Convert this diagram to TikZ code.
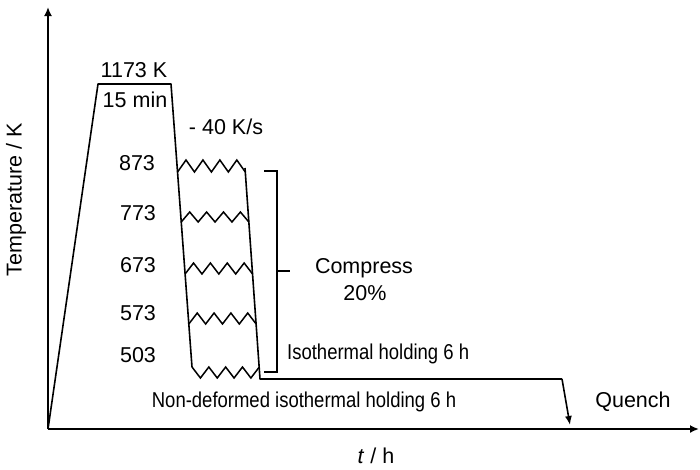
\documentclass[tikz,border=0pt]{standalone}
\usepackage{fontspec}
\setmainfont{Liberation Sans}
\usetikzlibrary{arrows.meta}
\begin{document}
\begin{tikzpicture}[x=1pt,y=-1pt,
  lbl/.style={inner sep=0pt, font=\fontsize{21.5}{23}\selectfont},
  lbls/.style={inner sep=0pt, font=\fontsize{21.5}{23}\selectfont, xscale=0.86},
  axis/.style={line width=2pt},
  proc/.style={line width=1.6pt, line join=round},
  zig/.style={line width=1.5pt, line join=miter}]
\useasboundingbox (0,0) rectangle (700,469);
% axes
\coordinate (O) at (48,429);
\coordinate (Ytop) at (48,7);
\coordinate (Xend) at (699,429);
\draw[axis,-{Latex[length=9pt,width=8pt]}] (O) -- (Ytop);
\draw[axis,-{Latex[length=9pt,width=8pt]}] (O) -- (Xend);
% heating and plateau
\coordinate (A) at (98,84);
\coordinate (B) at (171,84);
\coordinate (C) at (192,367);
\draw[proc] (O) -- (A) -- (B) -- (C);
% zigzags
\foreach \yv/\yp in {172/160, 222/212, 274/263, 324/313}{
  \pgfmathsetmacro{\xl}{171+(\yv-84)*21/283}
  \pgfmathsetmacro{\xr}{245+(\yv-168)*15/210}
  \pgfmathsetmacro{\w}{(\xr-\xl)/8}
  \draw[zig] (\xl,\yv)
    \foreach \k in {1,...,8}{ -- ({\xl+\k*\w}, {mod(\k,2)==1 ? \yp : \yv}) };
}
\pgfmathsetmacro{\xl}{192}
\pgfmathsetmacro{\xr}{259.3}
\pgfmathsetmacro{\w}{(\xr-\xl)/8}
\draw[zig] (\xl,367)
  \foreach \k in {1,...,8}{ -- ({\xl+\k*\w}, {mod(\k,2)==1 ? 378 : 367}) };
% right line, holding, quench
\coordinate (D) at (245,168);
\coordinate (E) at (260,379);
\coordinate (F) at (562,379);
\coordinate (G) at (570,425);
\draw[proc] (D) -- (E) -- (F);
\draw[proc,-{Latex[length=9pt,width=7pt]}] (F) -- (G);
% bracket
\coordinate (b1) at (264,171);
\coordinate (b2) at (277,171);
\coordinate (b3) at (277,372);
\coordinate (b4) at (264,372);
\coordinate (bm) at (277,271);
\coordinate (bt) at (290,271);
\draw[proc,line join=miter] (b1) -- (b2) -- (b3) -- (b4);
\draw[proc] (bm) -- (bt);
% labels
\node[lbl] (t1173) at (134,70) {1173 K};
\node[lbl] (t15) at (135,100) {15 min};
\node[lbl] (trate) at (226,127) {- 40 K/s};
\node[lbl] (t873) at (137,163) {873};
\node[lbl] (t773) at (138,213) {773};
\node[lbl] (t673) at (138,265) {673};
\node[lbl] (t573) at (138,313) {573};
\node[lbl] (t503) at (138,355) {503};
\node[lbl] (tcomp) at (364,268) {Compress};
\node[lbl] (t20) at (365,293) {20\%};
\node[lbls,anchor=west] (tiso) at (287,354) {Isothermal holding 6 h};
\node[lbls] (tnon) at (304,402) {Non-deformed isothermal holding 6 h};
\node[lbl] (tq) at (633,402) {Quench};
\node[lbl] (tx) at (376,456) {\textit{t} / h};
\node[lbl,rotate=90] (ty) at (16,200) {Temperature / K};
\end{tikzpicture}
\end{document}
